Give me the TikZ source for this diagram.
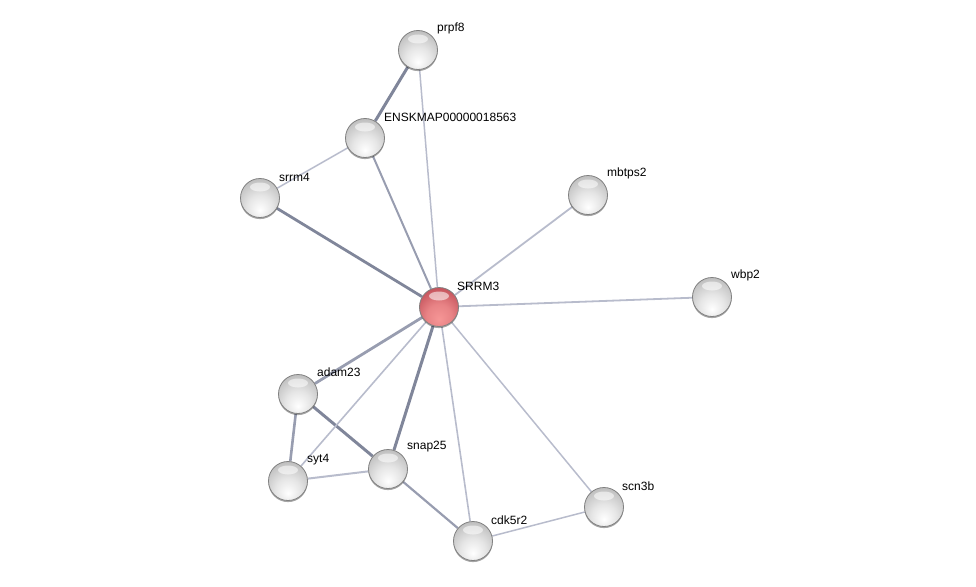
\documentclass[tikz,border=0pt]{standalone}
\usepackage{fontspec}
\setmainfont{Liberation Sans}
\usetikzlibrary{calc, backgrounds, shadows}
\definecolor{edgedark}{RGB}{128,134,154}
\definecolor{edgemid}{RGB}{152,157,176}
\definecolor{edgelight}{RGB}{184,188,204}
\definecolor{ballred}{RGB}{190,74,84}
\definecolor{ballpink}{RGB}{246,150,150}
\pgfdeclareradialshading{sphgray}{\pgfpoint{0bp}{-16bp}}{color(0bp)=(white); color(16bp)=(black!10); color(34bp)=(black!26); color(48bp)=(black!40); color(70bp)=(black!50)}
\pgfdeclareradialshading{sphred}{\pgfpoint{0bp}{-16bp}}{color(0bp)=(ballpink); color(16bp)=(ballpink!75!ballred); color(34bp)=(ballred!90!ballpink); color(48bp)=(ballred!85!black); color(70bp)=(ballred!70!black)}

\begin{document}
\begin{tikzpicture}[
  x=1pt, y=-1pt,
  prot/.style={circle, minimum size=39pt, inner sep=0pt, shading=#1, draw=black!50, line width=0.8pt,
    drop shadow={shadow xshift=0pt, shadow yshift=-1.6pt, fill=black, opacity=0.35},
    path picture={\fill[white, opacity=0.55] ($(path picture bounding box.center)+(0pt,11pt)$) ellipse (10pt and 4.5pt);}},
  prot/.default=sphgray,
  lbl/.style={anchor=west, inner sep=0pt, font=\fontsize{12}{14}\selectfont},
  lk/.style={line width=#1, edgelight},
  lkmid/.style={line width=#1, edgemid},
  lkdark/.style={line width=#1, edgedark},
]
  \useasboundingbox (0,0) rectangle (976,586);
  \node[prot] (prpf8) at (418, 50) {};
  \node[prot] (enskmap) at (365, 138) {};
  \node[prot] (srrm4) at (260, 198) {};
  \node[prot] (mbtps2) at (588, 195) {};
  \node[prot=sphred] (srrm3) at (439, 307) {};
  \node[prot] (wbp2) at (712, 297) {};
  \node[prot] (adam23) at (298, 394) {};
  \node[prot] (syt4) at (288, 481) {};
  \node[prot] (snap25) at (388, 469) {};
  \node[prot] (scn3b) at (604, 507) {};
  \node[prot] (cdk5r2) at (473, 541) {};

  \node[lbl] (prpf8-l) at ($(prpf8)+(19,-22)$) {prpf8};
  \node[lbl] (enskmap-l) at ($(enskmap)+(19,-21)$) {ENSKMAP00000018563};
  \node[lbl] (srrm4-l) at ($(srrm4)+(19,-21)$) {srrm4};
  \node[lbl] (mbtps2-l) at ($(mbtps2)+(19,-22)$) {mbtps2};
  \node[lbl] (srrm3-l) at ($(srrm3)+(18,-21)$) {SRRM3};
  \node[lbl] (wbp2-l) at ($(wbp2)+(19,-22)$) {wbp2};
  \node[lbl] (adam23-l) at ($(adam23)+(19,-22)$) {adam23};
  \node[lbl] (syt4-l) at ($(syt4)+(19,-21)$) {syt4};
  \node[lbl] (snap25-l) at ($(snap25)+(19,-22)$) {snap25};
  \node[lbl] (scn3b-l) at ($(scn3b)+(18,-21)$) {scn3b};
  \node[lbl] (cdk5r2-l) at ($(cdk5r2)+(18,-21)$) {cdk5r2};

  % interaction edges, behind the spheres
  \begin{scope}[on background layer]
    \draw[lkdark=3pt] (prpf8) -- (enskmap);
    \draw[lk=1.5pt] (prpf8) -- (srrm3);
    \draw[lk=1.5pt] (enskmap) -- (srrm4);
    \draw[lkmid=2pt] (enskmap) -- (srrm3);
    \draw[lkdark=2.8pt] (srrm4) -- (srrm3);
    \draw[lk=1.8pt] (mbtps2) -- (srrm3);
    \draw[lk=1.8pt] (wbp2) -- (srrm3);
    \draw[lkmid=2.8pt] (adam23) -- (srrm3);
    \draw[lkmid=2.6pt] (adam23) -- (syt4);
    \draw[lkdark=3pt] (adam23) -- (snap25);
    \draw[lk=2pt] (syt4) -- (snap25);
    \draw[lk=1.6pt] (syt4) -- (srrm3);
    \draw[lkdark=3pt] (snap25) -- (srrm3);
    \draw[lkmid=2.2pt] (snap25) -- (cdk5r2);
    \draw[lk=1.6pt] (cdk5r2) -- (srrm3);
    \draw[lk=1.5pt] (scn3b) -- (srrm3);
    \draw[lk=1.5pt] (scn3b) -- (cdk5r2);
  \end{scope}
\end{tikzpicture}
\end{document}
